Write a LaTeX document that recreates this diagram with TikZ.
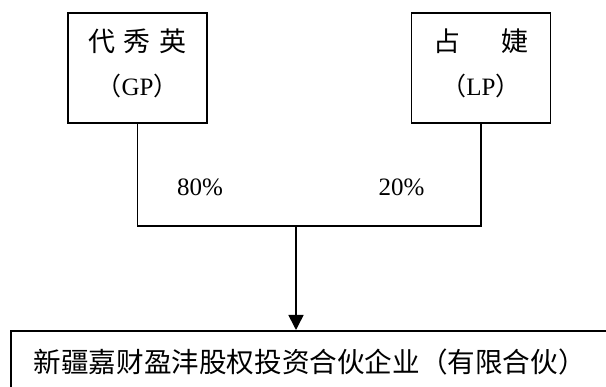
\documentclass[tikz,border=0pt]{standalone}
\usepackage{fontspec}
\setmainfont{Liberation Serif}
\newfontfamily\cjk{Noto Sans CJK SC}
\usetikzlibrary{arrows.meta}
\begin{document}
\begin{tikzpicture}[x=1pt,y=-1pt,
  conn/.style={line width=1.6pt, line join=miter},
  partner/.style={draw, line width=1.6pt, minimum width=139pt, minimum height=110pt,
    align=center, inner sep=0pt, text depth=12pt, font=\fontsize{25}{44}\selectfont},
  pct/.style={inner sep=0pt, font=\fontsize{25}{30}\selectfont},
  fundbox/.style={draw, line width=1.6pt, anchor=north west, minimum height=62pt,
    text width=564pt, inner xsep=23pt, align=left, font=\cjk\fontsize{27.6}{30}\selectfont}]
\useasboundingbox (0,0) rectangle (606,387);
\clip (0,0) rectangle (606,387);
\fill[white] (0,0) rectangle (606,387);
\node[partner] (gp) at (137.5,68) {{\cjk\fontsize{27}{30}\selectfont 代\hspace{9pt}秀\hspace{9pt}英}\\{\cjk （}GP{\cjk ）}};
\node[partner] (lp) at (481,68) {{\cjk\fontsize{27}{30}\selectfont 占\hspace{42pt}婕}\\{\cjk （}LP{\cjk ）}};
\node[fundbox] (fund) at (10,330) {新疆嘉财盈沣股权投资合伙企业（有限合伙）};
\coordinate (j) at (296,226);
\draw[conn] (gp.south) |- (j) -| (lp.south);
\draw[conn, -{Triangle[width=15pt,length=15pt]}] (j) -- (j |- fund.north);
\node[pct] (p80) at (200,187) {80\%};
\node[pct] (p20) at (401.5,187) {20\%};
\end{tikzpicture}
\end{document}
